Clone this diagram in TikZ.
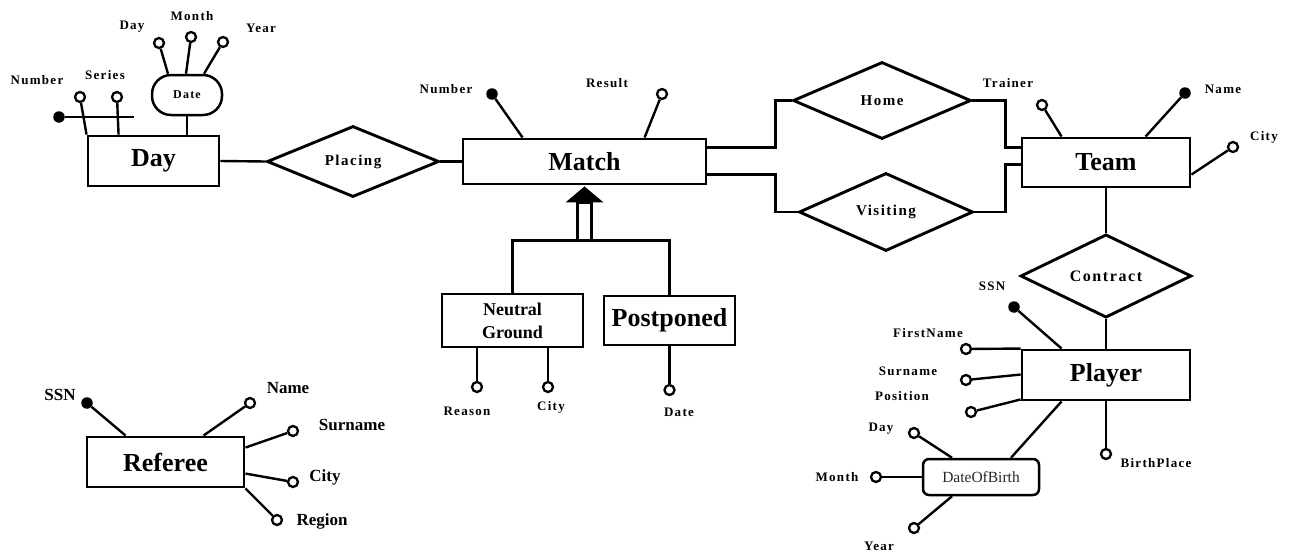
\documentclass[tikz,border=0pt]{standalone}
\usepackage{fontspec}
\setmainfont{Liberation Serif}
\newfontfamily\attfont{Liberation Serif}[LetterSpace=10]
\usetikzlibrary{shapes.geometric,calc}
\begin{document}
\begin{tikzpicture}[x=1pt,y=-1pt,
  ent/.style={draw, rectangle, line width=2.9pt, inner sep=0pt, font=\fontsize{26}{28}\selectfont\bfseries},
  rel/.style={draw, diamond, line width=2.9pt, inner sep=0pt, font=\attfont\bfseries\fontsize{15}{16}\selectfont},
  att/.style={circle, draw, line width=2.3pt, fill=white, minimum size=10pt, inner sep=0pt},
  katt/.style={circle, fill=black, minimum size=11.5pt, inner sep=0pt},
  lab/.style={inner sep=0pt, font=\attfont\bfseries\fontsize{13}{14}\selectfont},
  rlab/.style={inner sep=0pt, font=\bfseries\fontsize{17}{18}\selectfont},
  conn/.style={line width=2.4pt}]
\useasboundingbox (0,0) rectangle (1295,554);

% ---------------- entities
\node[ent, minimum width=131pt, minimum height=50pt] (day) at (153.5,161) {Day};
\node[ent, minimum width=243pt, minimum height=45pt] (match) at (584.5,161.5) {Match};
\node[ent, minimum width=168pt, minimum height=49pt] (team) at (1106,162.5) {Team};
\node[ent, minimum width=168pt, minimum height=50pt] (player) at (1106,375) {Player};
\node[ent, minimum width=157pt, minimum height=50pt] (ref) at (165.5,462) {Referee};
\node[ent, minimum width=141pt, minimum height=53pt, align=center, font=\bfseries\fontsize{18}{23}\selectfont] (ng) at (512.5,320.5) {Neutral\\Ground};
\node[ent, minimum width=131pt, minimum height=49pt] (pp) at (669.5,320.5) {Postponed};

% ---------------- relationships
\node[rel, minimum width=172pt, minimum height=71pt] (placing) at (353,161.5) {Placing};
\node[rel, minimum width=178pt, minimum height=77pt] (home) at (882,100.5) {Home};
\node[rel, minimum width=174pt, minimum height=78pt] (visiting) at (886,212) {Visiting};
\node[rel, minimum width=171pt, minimum height=80pt, font=\attfont\bfseries\fontsize{16}{17}\selectfont] (contract) at (1106,276) {Contract};

% ---------------- composite attributes
\node[draw, line width=2.5pt, rectangle, rounded corners=19pt, minimum width=70pt, minimum height=40pt, inner sep=0pt, font=\attfont\bfseries\fontsize{12}{13}\selectfont] (date) at (187,95) {Date};
\node[draw, line width=2.5pt, rectangle, rounded corners=6pt, minimum width=116pt, minimum height=36pt, inner sep=0pt, text=black!85, font=\fontsize{15.5}{16}\selectfont] (dob) at (981,477) {DateOfBirth};

% ---------------- relationship connectors
\draw[conn] (day.east) -- (placing.west);
\draw[conn] (placing.east) -- (match.west);
\draw[conn] ($(match.north east)+(0,10)$) -- ++(68,0) |- (home.west);
\draw[conn] ($(match.south east)+(0,-11)$) -- ++(68,0) |- (visiting.west);
\draw[conn] (home.east) -| ($(team.north west)+(-15,11)$) -- ($(team.north west)+(0,11)$);
\draw[conn] (visiting.east) -| ($(team.south west)+(-15,-24)$) -- ($(team.south west)+(0,-24)$);
\draw[conn] (team.south) -- (contract.north);
\draw[conn] (contract.south) -- (player.north);

% ---------------- generalization
\coordinate (isa) at ($(match.south)+(0,55)$);
\fill ($(match.south)+(0,1)$) -- ++(-19,16) -- ++(38,0) -- cycle;
\draw[conn] ($(match.south)+(-7,17)$) rectangle ($(isa)+(7,0)$);
\draw[conn] (ng.north) -- (ng.north |- isa) -- (pp.north |- isa) -- (pp.north);

% ---------------- Day attributes
\node[att] (dnum) at (80,97) {};
\node[att] (dser) at (117,97) {};
\node[katt] (dkey) at (59,117) {};
\coordinate (dkeyend) at (134,117);
\draw[conn] (dnum) -- (day.north west);
\draw[conn] (dser) -- ([xshift=32pt]day.north west);
\draw[conn] (dkey) -- (dkeyend);
\draw[conn] (date.south) -- (date.south |- day.north);
\node[lab] at (37,80) {Number};
\node[lab] at (105,75) {Series};

\node[att] (dd) at (159,43) {};
\node[att] (dm) at (191,37) {};
\node[att] (dy) at (223,42) {};
\draw[conn] (dd) -- ([xshift=-19pt]date.north);
\draw[conn] (dm) -- ([xshift=-1pt]date.north);
\draw[conn] (dy) -- ([xshift=17pt]date.north);
\node[lab] at (132,27) {Day};
\node[lab] at (192,16) {Month};
\node[lab] at (261,28) {Year};

% ---------------- Match attributes
\node[katt] (mnum) at (492,94) {};
\node[att] (mres) at (662,94) {};
\draw[conn] (mnum) -- ([xshift=61pt]match.north west);
\draw[conn] (mres) -- ([xshift=183pt]match.north west);
\node[lab] at (446,89) {Number};
\node[lab] at (607,83) {Result};

% ---------------- Team attributes
\node[att] (ttr) at (1042,105) {};
\node[katt] (tname) at (1185,93) {};
\node[att] (tcity) at (1233,147) {};
\draw[conn] (ttr) -- ([xshift=41pt]team.north west);
\draw[conn] (tname) -- ([xshift=125pt]team.north west);
\draw[conn] (tcity) -- ([yshift=-38pt]team.north east);
\node[lab] at (1008,83) {Trainer};
\node[lab] at (1223,89) {Name};
\node[lab] at (1264,137) {City};

% ---------------- Player attributes
\node[katt] (pssn) at (1014,307) {};
\node[att] (pfn) at (966,349) {};
\node[att] (psur) at (966,380) {};
\node[att] (ppos) at (971,412) {};
\node[att] (pbp) at (1106,454) {};
\draw[conn] (pssn) -- ([xshift=41pt]player.north west);
\draw[conn] (pfn) -- (player.north west);
\draw[conn] (psur) -- ([yshift=-26pt]player.north west);
\draw[conn] (ppos) -- ([yshift=2pt]player.south west);
\draw[conn] (pbp) -- (player.south);
\draw[conn] ([xshift=30pt]dob.north) -- ([xshift=41pt]player.south west);
\node[lab] at (992,286) {SSN};
\node[lab] at (928,333) {FirstName};
\node[lab] at (908,371) {Surname};
\node[lab] at (902,396) {Position};
\node[lab] at (1156,463) {BirthPlace};

\node[att] (bd) at (914,433) {};
\node[att] (bm) at (876,477) {};
\node[att] (by) at (914,528) {};
\draw[conn] (bd) -- ([xshift=-29pt]dob.north);
\draw[conn] (bm) -- (dob.west);
\draw[conn] (by) -- ([xshift=-29pt]dob.south);
\node[lab] at (881,429) {Day};
\node[lab] at (837,477) {Month};
\node[lab] at (879,546) {Year};

% ---------------- Neutral Ground / Postponed attributes
\node[att] (nreason) at (477,387) {};
\node[att] (ncity) at (548,387) {};
\node[att] (pdate) at (669.5,390) {};
\draw[conn] (nreason) -- (nreason |- ng.south);
\draw[conn] (ncity) -- (ncity |- ng.south);
\draw[conn] (pdate) -- (pp.south);
\node[lab] at (467,411) {Reason};
\node[lab] at (551,407) {City};
\node[lab] at (679,412) {Date};

% ---------------- Referee attributes
\node[katt] (rssn) at (87,403) {};
\node[att] (rname) at (250,403) {};
\node[att] (rsur) at (293,431) {};
\node[att] (rcity) at (293,482) {};
\node[att] (rreg) at (277,520) {};
\draw[conn] (rssn) -- ([xshift=40pt]ref.north west);
\draw[conn] (rname) -- ([xshift=118pt]ref.north west);
\draw[conn] (rsur) -- ([yshift=-12pt]ref.north east);
\draw[conn] (rcity) -- ([yshift=-38pt]ref.north east);
\draw[conn] (rreg) -- (ref.south east);
\node[rlab] at (60,395) {SSN};
\node[rlab] at (288,388) {Name};
\node[rlab] at (352,425) {Surname};
\node[rlab] at (325,477) {City};
\node[rlab] at (322,521) {Region};
\end{tikzpicture}
\end{document}
